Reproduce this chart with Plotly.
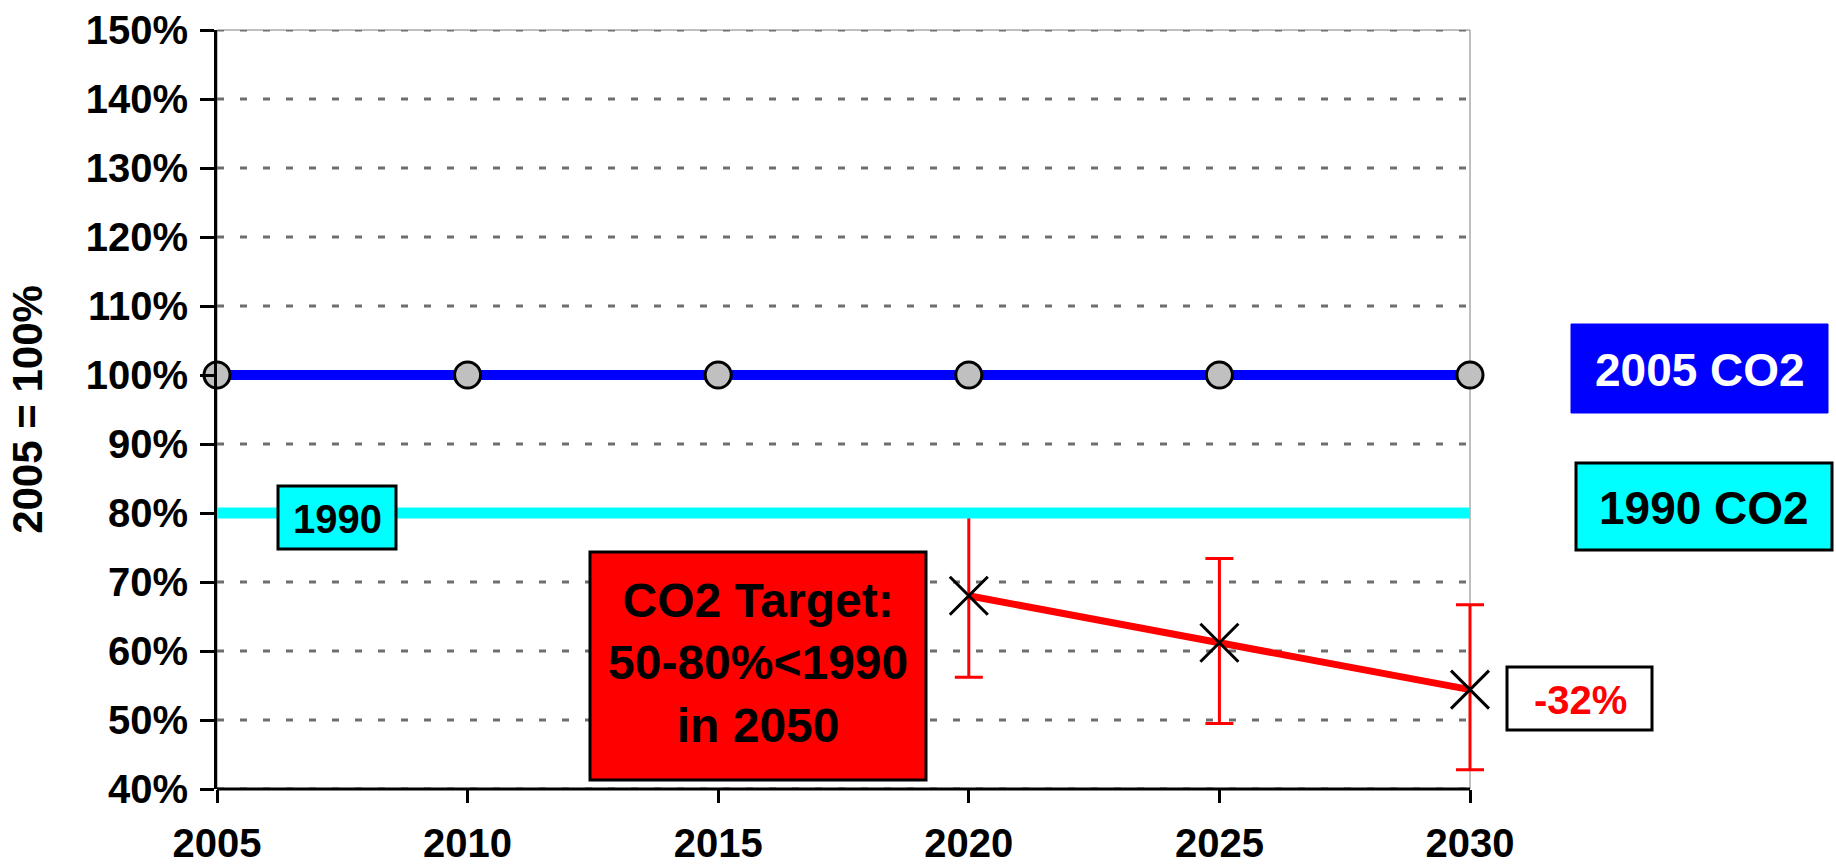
import plotly.graph_objects as go

# ---- data ----
years = [2005, 2010, 2015, 2020, 2025, 2030]
co2_2005 = [100, 100, 100, 100, 100, 100]
line_1990_years = [2005, 2030]
co2_1990 = [80, 80]
target_years = [2020, 2025, 2030]
target_vals = [68, 61.2, 54.4]
err_plus = [12, 12.2, 12.3]
err_minus = [11.8, 11.7, 11.6]
y_ticks = [40, 50, 60, 70, 80, 90, 100, 110, 120, 130, 140, 150]
x_ticks = [2005, 2010, 2015, 2020, 2025, 2030]

# ---- layout geometry (pixels) ----
W, H = 1836, 865
L, T, B = 217, 30, 76
X_RIGHT_PX = 1470          # pixel where the last year (2030) sits
R = 0                      # plot area runs to the page edge so nothing is clipped
PW, PH = W - L - R, H - T - B
FONT = "Liberation Sans, Arial, sans-serif"

x_min, x_last = x_ticks[0], x_ticks[-1]
x_max = x_min + (x_last - x_min) * PW / (X_RIGHT_PX - L)


def px(x):
    return (x - L) / PW


def py(y):
    return (H - B - y) / PH


fig = go.Figure()

fig.add_trace(go.Scatter(
    x=target_years, y=target_vals, mode="lines+markers",
    line=dict(color="#FF0000", width=7),
    marker=dict(symbol="x-thin", size=38, color="black",
                line=dict(color="black", width=3)),
    error_y=dict(type="data", symmetric=False, array=err_plus,
                 arrayminus=err_minus, color="#FF0000", thickness=3, width=14),
    cliponaxis=False, showlegend=False, hoverinfo="skip"))

fig.add_trace(go.Scatter(
    x=line_1990_years, y=co2_1990, mode="lines",
    line=dict(color="#00FFFF", width=11),
    cliponaxis=False, showlegend=False, hoverinfo="skip"))

fig.add_trace(go.Scatter(
    x=years, y=co2_2005, mode="lines+markers",
    line=dict(color="#0000FF", width=10),
    marker=dict(symbol="circle", size=26, color="#C0C0C0",
                line=dict(color="black", width=3)),
    cliponaxis=False, showlegend=False, hoverinfo="skip"))

shapes = []
# dashed horizontal gridlines at each y tick, spanning the chart years
for v in y_ticks:
    shapes.append(dict(type="line", xref="x", yref="y", x0=x_min, x1=x_last, y0=v, y1=v,
                       line=dict(color="#6e6e6e", width=3, dash="7px,16px"), layer="below"))
# thin grey frame (top / right)
shapes.append(dict(type="rect", xref="x", yref="paper", x0=x_min, x1=x_last, y0=0, y1=1,
                   line=dict(color="#808080", width=1), layer="below"))
# bold x-axis line
shapes.append(dict(type="line", xref="x", yref="paper", x0=x_min, x1=x_last, y0=0, y1=0,
                   line=dict(color="black", width=3), layer="above"))


def box(x0, x1, y0, y1, fill, border, bw=3):
    shapes.append(dict(type="rect", xref="paper", yref="paper",
                       x0=px(x0), x1=px(x1), y0=py(y1), y1=py(y0),
                       fillcolor=fill,
                       line=dict(color=border, width=bw), layer="above"))


annotations = []


def label(text, cx, cy, color, size):
    annotations.append(dict(text=text, xref="paper", yref="paper",
                            x=px(cx), y=py(cy), xanchor="center", yanchor="middle",
                            showarrow=False,
                            font=dict(family=FONT, size=size, color=color, weight="bold")))


box(278, 396, 486, 549, "#00FFFF", "black")
label("1990", 337, 519, "black", 40)

box(590, 926, 552, 780, "#FF0000", "black")
label("CO2 Target:<br>50-80%&lt;1990<br>in 2050", 758, 663, "black", 48)

box(1507, 1652, 667, 730, "white", "black")
label("-32%", 1580, 700, "#FF0000", 40)

box(1571, 1828, 324, 413, "#0000FF", "#0000FF", 1)
label("2005 CO2", 1700, 370, "white", 46)

box(1576, 1832, 463, 550, "#00FFFF", "black")
label("1990 CO2", 1704, 508, "black", 46)

fig.update_layout(
    width=W, height=H,
    margin=dict(l=L, r=R, t=T, b=B, autoexpand=False),
    paper_bgcolor="white", plot_bgcolor="white",
    showlegend=False, hovermode=False,
    shapes=shapes, annotations=annotations,
    font=dict(family=FONT, color="black"),
)

fig.update_xaxes(
    range=[x_min, x_max], tickvals=x_ticks, ticktext=[str(v) for v in x_ticks],
    showgrid=False, zeroline=False, showline=False,
    ticks="outside", ticklen=13, tickwidth=3, tickcolor="black",
    tickfont=dict(family=FONT, size=40, color="black", weight="bold"),
    ticklabelstandoff=6,
)
fig.update_yaxes(
    range=[40, 150], tickvals=y_ticks, ticktext=[f"{v}%" for v in y_ticks],
    showgrid=False, zeroline=False,
    showline=True, linecolor="black", linewidth=3,
    ticks="outside", ticklen=14, tickwidth=3, tickcolor="black",
    tickfont=dict(family=FONT, size=40, color="black", weight="bold"),
    ticklabelstandoff=4,
    title=dict(text="2005 = 100%", standoff=30,
               font=dict(family=FONT, size=42, color="black", weight="bold")),
)

fig.write_html("out.html", config={"displayModeBar": False},
               post_script="document.body.style.margin='0';")
